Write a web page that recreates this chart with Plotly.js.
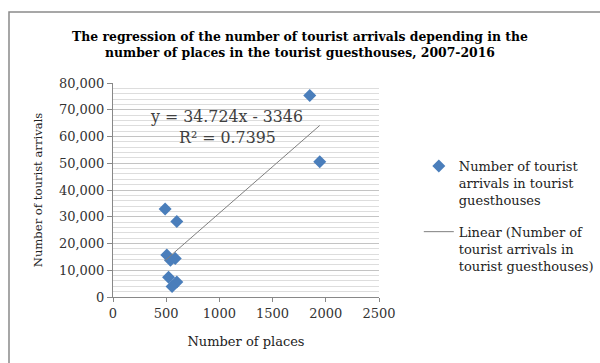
<!DOCTYPE html>
<html>
<head>
<meta charset="utf-8">
<script src="https://cdn.plot.ly/plotly-3.0.1.min.js"></script>
<style>
html,body{margin:0;padding:0;background:#fff;}
#chart{width:600px;height:363px;}
</style>
</head>
<body>
<div id="chart"></div>
<script>
// Data (number of places vs tourist arrivals, 2007-2016)
const places   = [490, 600, 506, 585, 540, 522, 600, 555, 1849, 1943];
const arrivals = [32900, 28200, 15700, 14400, 13700, 7400, 5600, 3900, 75300, 50600];
// Linear trendline coefficients shown on chart
const slope = 34.724;
const intercept = -3346;
const xTicks = [0, 500, 1000, 1500, 2000, 2500];
const yTicks = [0, 10000, 20000, 30000, 40000, 50000, 60000, 70000, 80000];
const yTickText = ['0', '10,000', '20,000', '30,000', '40,000', '50,000', '60,000', '70,000', '80,000'];

const xMin = Math.min(...places), xMax = Math.max(...places);
const trendX = [xMin, xMax];
const trendY = trendX.map(v => slope * v + intercept);

const font = 'DejaVu Serif, serif';

const traces = [
  {
    x: places, y: arrivals, type: 'scatter', mode: 'markers',
    name: 'Number of tourist<br>arrivals in tourist<br>guesthouses',
    legendgroup: 'a',
    marker: {symbol: 'diamond', size: 10, color: '#4a7ebb'}
  },
  {
    x: trendX, y: trendY, type: 'scatter', mode: 'lines',
    name: 'Linear (Number of<br>tourist arrivals in<br>tourist guesthouses)',
    legendgroup: 'b',
    line: {color: '#7f7f7f', width: 1}
  }
];

const layout = {
  width: 600, height: 363,
  margin: {l: 113, r: 221, t: 83, b: 66},
  paper_bgcolor: '#fff', plot_bgcolor: '#fff',
  font: {family: font, size: 12, color: '#222'},
  title: {
    text: '<b>The regression of the number of tourist arrivals depending in the<br>number of places in the tourist guesthouses, 2007-2016</b>',
    font: {family: font, size: 12.4, color: '#000'},
    x: 309, xref: 'container', xanchor: 'center', y: 0.888, yanchor: 'middle'
  },
  xaxis: {
    range: [0, 2500], tickvals: xTicks, ticktext: xTicks.map(String),
    showgrid: false, zeroline: false,
    showline: true, linecolor: '#888', linewidth: 1,
    ticks: 'outside', ticklen: 4, tickcolor: '#888',
    tickfont: {family: font, size: 13, color: '#333'},
    title: {text: 'Number of places', font: {family: font, size: 13, color: '#222'}, standoff: 17}
  },
  yaxis: {
    range: [0, 80000], tickvals: yTicks, ticktext: yTickText,
    showgrid: true, gridcolor: '#c4c4c4', gridwidth: 1,
    minor: {dtick: 2000, showgrid: true, gridcolor: '#dddddd', gridwidth: 1},
    zeroline: false,
    showline: true, linecolor: '#888', linewidth: 1,
    ticks: 'outside', ticklen: 5, tickcolor: '#888',
    tickfont: {family: font, size: 13, color: '#333'},
    title: {text: 'Number of tourist arrivals', font: {family: font, size: 11.6, color: '#222'}, standoff: 13}
  },
  legend: {
    xref: 'container', yref: 'container',
    x: 0.698, y: 0.584, xanchor: 'left', yanchor: 'top', valign: 'top',
    font: {family: font, size: 13, color: '#222'},
    bgcolor: 'rgba(0,0,0,0)', tracegroupgap: 12, itemwidth: 30
  },
  annotations: [
    {xref: 'paper', yref: 'paper', x: 0.425, y: 0.843, text: 'y = 34.724x - 3346',
     showarrow: false, font: {family: font, size: 15.8, color: '#404040'}, xanchor: 'center', yanchor: 'middle'},
    {xref: 'paper', yref: 'paper', x: 0.43, y: 0.745, text: 'R² = 0.7395',
     showarrow: false, font: {family: font, size: 15.8, color: '#404040'}, xanchor: 'center', yanchor: 'middle'}
  ],
  shapes: [
    {type: 'rect', xref: 'paper', yref: 'paper', x0: -0.391, x1: 2.2, y0: -0.6, y1: 1.332,
     line: {color: '#8a8a8a', width: 1.5}, fillcolor: 'rgba(0,0,0,0)', layer: 'below'}
  ],
  showlegend: true
};

Plotly.newPlot('chart', traces, layout, {staticPlot: true, displayModeBar: false});
</script>
</body>
</html>
